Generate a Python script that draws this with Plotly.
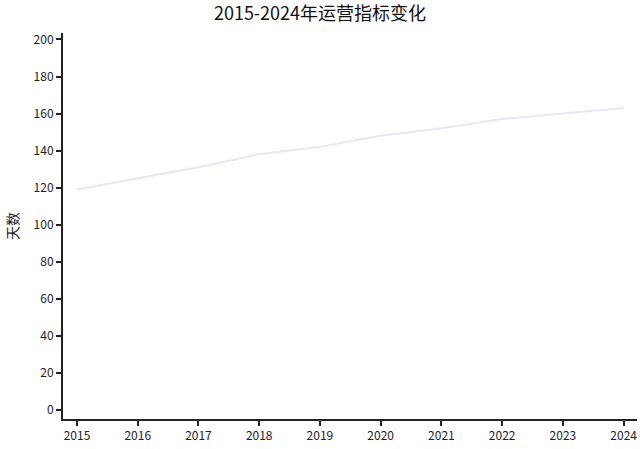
import plotly.graph_objects as go

# 年份与天数
years = [2015, 2016, 2017, 2018, 2019, 2020, 2021, 2022, 2023, 2024]
days = [119, 125, 131, 138, 142, 148, 152, 157, 160, 163]
y_ticks = [0, 20, 40, 60, 80, 100, 120, 140, 160, 180, 200]

fig = go.Figure()
fig.add_trace(go.Scatter(
    x=years, y=days,
    mode='lines',
    line=dict(color='#e6e6fa', width=2),
    showlegend=False
))

axis_style = dict(
    showline=True, linecolor='#222222', linewidth=2,
    ticks='outside', ticklen=5, tickwidth=2, tickcolor='#222222',
    showgrid=False, zeroline=False,
    tickfont=dict(size=12, color='#222222')
)

fig.update_layout(
    title=dict(text='2015-2024年运营指标变化', x=0.5, xanchor='center',
               y=1 - 14 / 449, yanchor='middle',
               font=dict(size=18, color='#111111')),
    font=dict(family='Noto Sans CJK SC, DejaVu Sans', color='#222222'),
    width=640, height=449,
    margin=dict(l=63, r=3, t=33, b=30),
    plot_bgcolor='white', paper_bgcolor='white',
    xaxis=dict(range=[2014.77, 2024.22], tickvals=years, **axis_style),
    yaxis=dict(range=[-5, 203.5], tickvals=y_ticks,
               title=dict(text='天数', font=dict(size=14), standoff=12), **axis_style),
)

# 去掉页面默认边距，让图从左上角开始；不显示工具栏
fig.write_html("out.html", config={'displayModeBar': False},
               post_script="document.body.style.margin='0';")
